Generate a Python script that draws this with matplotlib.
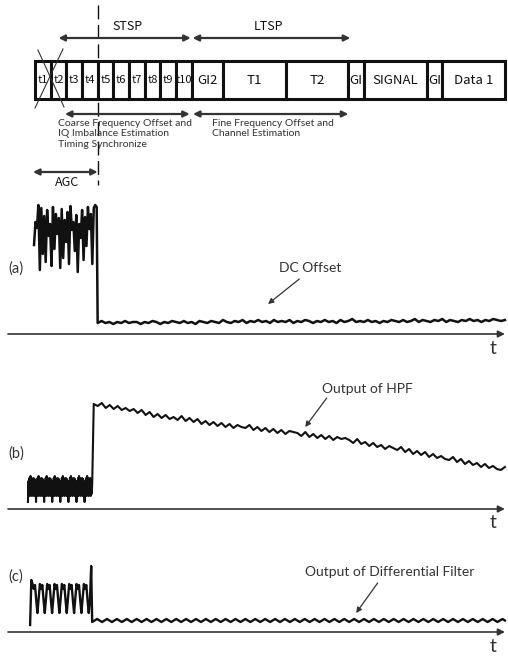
import numpy as np
import matplotlib
matplotlib.use("Agg")
import matplotlib.pyplot as plt
from matplotlib import font_manager

# 802.11a preamble fields, durations in microseconds
field_names = ["t1", "t2", "t3", "t4", "t5", "t6", "t7", "t8", "t9", "t10",
               "GI2", "T1", "T2", "GI", "SIGNAL", "GI", "Data 1"]
field_us = [0.8] * 10 + [1.6, 3.2, 3.2, 0.8, 3.2, 0.8, 3.2]

# (a) received signal: AGC burst, then DC offset (height above the t axis, px)
a_burst = [89, 112, 106, 129, 64, 126, 80, 118, 72, 124, 98, 110, 68, 127, 85, 120,
           100, 116, 66, 125, 76, 114, 92, 122, 70, 128, 104, 112, 83, 119, 62, 110,
           96, 124, 74, 117, 88, 127, 105, 120, 70, 126, 129, 127]
a_tail = [11, 13, 11, 12, 10, 12, 11, 13, 11, 12, 12, 10, 12, 11, 13, 12, 10, 12, 11, 13,
          12, 11, 13, 11, 12, 10, 13, 12, 11, 13, 12, 11, 14, 12, 11, 13, 12, 14, 11, 13,
          12, 14, 12, 13, 11, 14, 12, 13, 12, 14, 11, 13, 12, 14, 13, 11, 13, 12, 14, 12,
          13, 11, 14, 12, 13, 15, 12, 13, 12, 14, 12, 13, 11, 13, 12, 14, 13, 12, 14, 12,
          13, 15, 12, 14, 13, 12, 14, 13, 15, 12, 14, 13, 12, 14, 13, 15, 13, 14, 12, 14,
          13, 15, 14, 13, 14]

# (b) output of HPF
b_period = [7, 28, 14, 31, 13, 33, 14, 31, 13, 30, 14, 31, 13, 30, 15, 24]
b_tail = [105, 103, 106, 101, 104, 100, 103, 99, 101, 98, 100, 96, 99,
          94, 97, 92, 95, 91, 94, 90, 92, 89, 93, 88, 91,
          87, 90, 85, 88, 84, 87, 83, 86, 82, 85, 81, 84, 82,
          81, 84, 79, 82, 78, 81, 77, 80, 76, 79, 75, 78, 77,
          76, 73, 77, 72, 75, 71, 74, 70, 73, 69, 72, 70, 71,
          69, 66, 70, 65, 67, 63, 66, 62, 64, 60, 63, 61,
          59, 62, 57, 60, 55, 58, 54, 57, 52, 55, 51, 53, 50,
          49, 52, 47, 50, 45, 48, 44, 46, 42, 45, 41, 43, 40,
          39, 42]

# (c) output of differential filter
c_period = [48, 43, 47, 32, 19, 33]
c_ripple = [10, 11.5, 13, 11.5]

PX = 19.58      # px per microsecond
X0 = 35         # px position of t = 0
W, H = 508, 656

names = {f.name for f in font_manager.fontManager.ttflist}
gothic = "Noto Sans CJK JP" if "Noto Sans CJK JP" in names else "DejaVu Sans"
body = "Lato" if "Lato" in names else "DejaVu Sans"
ink = "#111111"
grey = "#333333"

fig = plt.figure(figsize=(W / 100, H / 100), dpi=100)
ax = fig.add_axes([0, 0, 1, 1])
ax.set_xlim(-X0 / PX, (W - X0) / PX)
ax.set_ylim(H, 0)
ax.axis("off")

# frame structure
starts = np.concatenate([[0], np.cumsum(field_us)[:-1]])
ax.barh(80, field_us, left=starts, height=38, color="white",
        edgecolor=ink, linewidth=2.2, align="center")
for s, w, name in zip(starts, field_us, field_names):
    size = 8 if name.startswith("t") else 9.5
    ax.text(s + w / 2, 80, name, ha="center", va="center",
            fontsize=size, family=gothic, color=ink)

# t1, t2 crossed out
ax.plot([0.15, 1.48], [50, 107], color=grey, lw=0.8)
ax.plot([1.43, 0.0], [49, 108], color=grey, lw=0.8)

# dashed AGC boundary
ax.plot([3.2, 3.2], [5, 185], color=ink, lw=1.0, ls=(0, (10, 4)))

def span(x1, x2, y):
    ax.annotate("", xy=(x2, y), xytext=(x1, y),
                arrowprops=dict(arrowstyle="<|-|>", lw=1.6, color=grey,
                                mutation_scale=9, shrinkA=0, shrinkB=0))

span(1.2, 7.95, 38)
span(8.05, 16.1, 38)
span(1.53, 7.9, 114)
span(8.07, 16.0, 114)
span(-0.1, 3.2, 172)
ax.text(4.7, 27, "STSP", ha="center", va="center", fontsize=9, family=gothic, color=ink)
ax.text(11.9, 27, "LTSP", ha="center", va="center", fontsize=9, family=gothic, color=ink)
ax.text(1.65, 182, "AGC", ha="center", va="center", fontsize=9, family=gothic, color=ink)

ax.text(1.17, 119, "Coarse Frequency Offset and\nIQ Imbalance Estimation\nTiming Synchronize",
        ha="left", va="top", fontsize=7.5, family=body, color=grey, linespacing=1.2)
ax.text(9.04, 119, "Fine Frequency Offset and\nChannel Estimation",
        ha="left", va="top", fontsize=7.5, family=body, color=grey, linespacing=1.2)

# waveform panels
panels = [("(a)", 334, 269), ("(b)", 509, 454), ("(c)", 632, 577)]
for lab, base, ly in panels:
    ax.annotate("", xy=(24.0, base), xytext=(-1.38, base),
                arrowprops=dict(arrowstyle="-|>", lw=1.2, color=grey,
                                mutation_scale=10, shrinkA=0, shrinkB=0))
    ax.text(-1.38, ly, lab, ha="left", va="center", fontsize=10.5, family=body, color=grey)
    ax.text(23.4, base + 14, "t", ha="center", va="center", fontsize=14, family=body, color=grey)

# (a)
base = panels[0][1]
ta = np.concatenate([np.linspace(-0.05, 3.15, len(a_burst)), np.linspace(3.2, 24.0, len(a_tail))])
ya = base - np.array(a_burst + a_tail)
ax.plot(ta, ya, color=ink, lw=1.8)

# (b)
base = panels[1][1]
b_burst = np.tile(b_period, 8)
tb = np.concatenate([np.linspace(-0.36, 2.92, len(b_burst)), np.linspace(3.0, 24.0, len(b_tail))])
yb = base - np.concatenate([b_burst, b_tail])
ax.plot(tb, yb, color=ink, lw=1.5)

# (c)
base = panels[2][1]
c_burst = [7, 52] + c_period * 8 + [66]
c_tail = np.tile(c_ripple, 42)
tc = np.concatenate([np.linspace(-0.25, 2.87, len(c_burst)), np.linspace(2.92, 24.0, len(c_tail))])
yc = base - np.concatenate([c_burst, c_tail])
ax.plot(tc, yc, color=ink, lw=1.7)

# callouts
notes = [("DC Offset", 14.05, 268, (13.5, 279), (11.9, 304)),
         ("Output of HPF", 17.0, 389, (14.9, 398), (13.8, 427)),
         ("Output of Differential Filter", 18.1, 572, (17.5, 583), (16.4, 613))]
for txt, tx, ty, tail, head in notes:
    ax.text(tx, ty, txt, ha="center", va="center", fontsize=10, family=body, color=grey)
    ax.annotate("", xy=head, xytext=tail,
                arrowprops=dict(arrowstyle="-|>", lw=0.9, color=grey,
                                mutation_scale=8, shrinkA=0, shrinkB=0))

fig.savefig("out.png", dpi=100)
